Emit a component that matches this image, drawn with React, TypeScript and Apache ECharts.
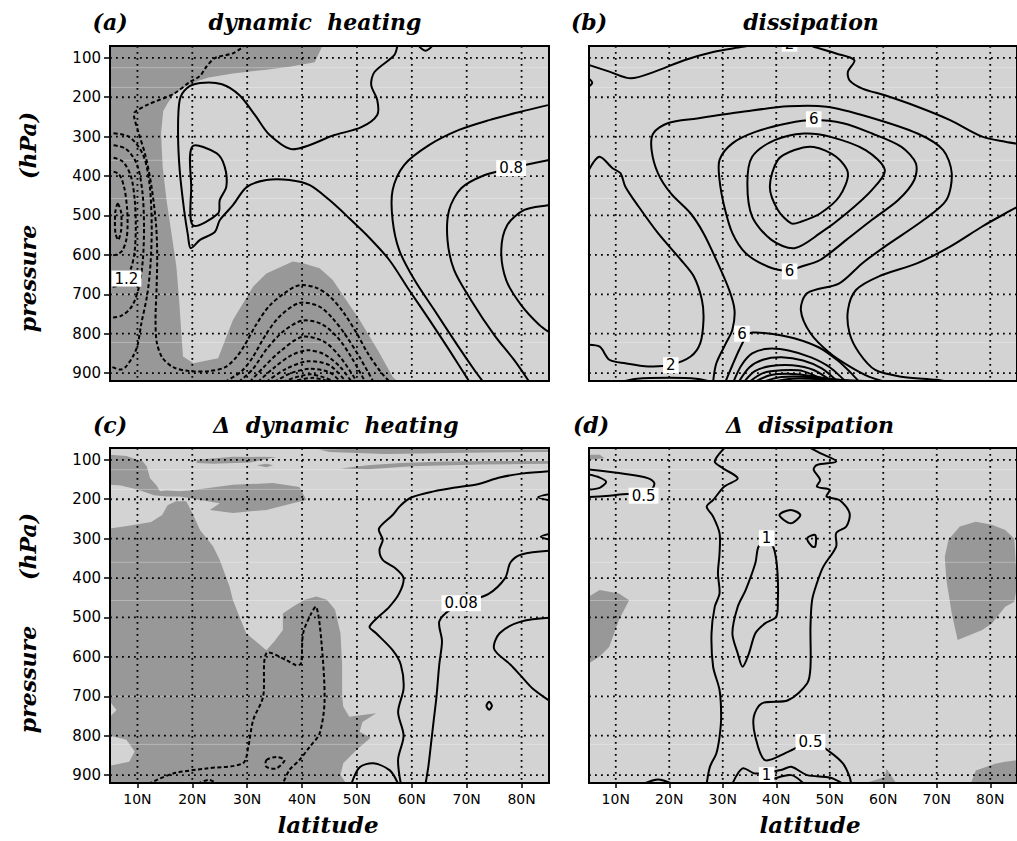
import React, { useEffect, useRef } from "react";
import * as echarts from "echarts";

type Pt = [number, number];

const LAT_TICKS = [10, 20, 30, 40, 50, 60, 70, 80];
const P_TICKS = [100, 200, 300, 400, 500, 600, 700, 800, 900];
const LAT_MIN = 5;
const LAT_MAX = 85;
const P_TOP = 70;
const P_BOTTOM = 920;
const FAINT_LEVELS = [125, 175, 360, 457, 700, 822];

// ---------------- panel (a) dynamic heating ----------------
const A_DARK: Pt[][] = [
  [[5, 70], [43.7, 70], [42.3, 111], [38, 122], [33.5, 130], [27.4, 140], [23, 150], [21.4, 157], [19.5, 168], [18, 180], [16.5, 195], [15.5, 215], [14.7, 235], [14.3, 292], [14.6, 377], [15.3, 461], [16.2, 545], [17.1, 630], [17.6, 715], [18, 799], [18.3, 858], [20.2, 875], [24.7, 862], [27.4, 765], [31.1, 680], [33.5, 647], [38.3, 617], [40.2, 621], [43.2, 634], [45.6, 664], [48, 714], [50.5, 765], [52.3, 807], [54.1, 849], [56.5, 909], [57.3, 920], [5, 920]],
];
const A_LIGHT: Pt[][] = [];
const A_SOLID: Pt[][] = [
  [[57.4, 66], [56.8, 93], [53.2, 136], [52.6, 169], [53.7, 207], [53.7, 245], [50.8, 276], [45.9, 296], [38.3, 332], [34.1, 296], [31.4, 245], [28.6, 195], [25.4, 167], [21.4, 164], [19, 177], [17.7, 207], [17.4, 291], [17.7, 385], [18.5, 486], [19.2, 550], [19.7, 583], [21.4, 562], [24.1, 542], [25, 512], [27.4, 474], [29.9, 428], [33.5, 410], [37.7, 410], [41.4, 423], [45, 461], [48.6, 507], [52.3, 557], [55.9, 613], [59.5, 689], [63.2, 765], [66.8, 841], [70.5, 922]],
  [[20, 325], [24.4, 342], [25.9, 376], [26.2, 427], [25, 461], [24.7, 495], [20.1, 525], [19.8, 427], [20, 325]],
  [[61, 66], [62.5, 82], [64, 66]],
  [[84.8, 220], [79.5, 238], [74.1, 258], [68.6, 283], [63.2, 321], [58.6, 372], [56.5, 436], [56.5, 512], [57.7, 588], [60.5, 664], [64.1, 740], [68.3, 829], [71.4, 892], [73, 922]],
  [[86, 358], [84.8, 360], [78.1, 380], [73.2, 398], [69, 431], [66.8, 486], [66.5, 562], [67.7, 638], [70.8, 715], [75, 803], [78.6, 866], [81.4, 922]],
  [[86, 472], [84.8, 474], [80.5, 486], [77.4, 524], [76.3, 588], [77.2, 664], [79.9, 727], [83.2, 777], [86, 805]],
];
const A_DASHED: Pt[][] = [
  [[6.4, 470], [7.0, 490], [7.1, 515], [7.0, 540], [6.5, 562], [6.0, 545], [5.9, 515], [6.0, 488], [6.4, 470]],
  [[4.5, 385], [6.6, 395], [7.6, 430], [8.1, 480], [8.2, 525], [8.0, 560], [7.2, 590], [6.0, 600], [4.5, 600]],
  [[4.5, 350], [7.2, 362], [8.8, 400], [9.5, 460], [9.7, 525], [9.5, 590], [8.8, 635], [7.5, 665], [6, 680], [4.5, 680]],
  [[4.5, 320], [7.8, 330], [9.9, 370], [10.9, 440], [11.2, 525], [11.0, 610], [10.3, 680], [9.0, 730], [7.0, 755], [4.5, 760]],
  [[4.5, 290], [8.4, 300], [11, 345], [12.2, 420], [12.6, 525], [12.4, 620], [11.8, 700], [10.7, 775], [10, 830], [9.2, 857], [7.8, 885], [6.8, 891], [4.5, 879]],
  [[29.8, 66], [27.5, 88], [24.2, 100], [22.6, 122], [21.4, 146], [19.5, 162], [16.5, 192], [12, 218], [9.5, 238], [9.4, 250], [10.2, 290], [11.5, 350], [12.6, 430], [13.4, 525], [13.6, 600], [13.5, 680], [13.3, 760], [13.5, 820], [14.5, 860], [16.5, 885], [19.5, 895], [23, 895], [26, 885], [28, 860], [29.5, 830], [31.5, 780], [34, 730], [37, 695], [39.5, 677], [42.5, 683], [45, 705], [47.5, 745], [50, 800], [52, 850], [54.5, 900], [56, 922]],
  [[26, 922], [29, 895], [31, 860], [33.5, 800], [36, 755], [39.5, 722], [43, 730], [45.5, 760], [48, 805], [50.5, 860], [53, 922]],
  [[28.5, 922], [31, 890], [33.5, 840], [36.5, 795], [40, 767], [43.5, 775], [46.5, 810], [49, 860], [51.5, 922]],
  [[30.5, 922], [33, 885], [36, 845], [40, 808], [44, 820], [47, 860], [50, 922]],
  [[32, 922], [35, 885], [38, 855], [41, 842], [44, 852], [47, 885], [49, 922]],
  [[33.5, 922], [37, 890], [41, 870], [45, 880], [48, 922]],
  [[35, 922], [38, 900], [41.5, 889], [45, 898], [47, 922]],
  [[36.5, 922], [41.5, 903], [46, 922]],
  [[38, 922], [42, 912], [45, 922]],
];
const A_LABELS = [
  { text: "1.2", lat: 8, p: 660 },
  { text: "0.8", lat: 78.1, p: 380 },
];

// ---------------- panel (b) dissipation ----------------
const B_DARK: Pt[][] = [];
const B_LIGHT: Pt[][] = [];
const B_SOLID: Pt[][] = [
  [[4.5, 116], [8.8, 135], [12.8, 152], [17.3, 135], [22.8, 106], [28.2, 85], [33.7, 72], [36.1, 66], [40, 62], [45, 63], [47, 72], [51.2, 89], [54.6, 106], [53.4, 135], [53.7, 157], [56.1, 178], [60.3, 195], [66.4, 224], [72.5, 258], [78.5, 300], [82.8, 313], [86, 320]],
  [[4.5, 148], [5.6, 163], [4.5, 178]],
  [[4.5, 397], [6.9, 351], [9.4, 380], [10.9, 393], [11.8, 427], [14.3, 478], [17.9, 545], [22.2, 613], [24.6, 655], [26.1, 714], [26.4, 765], [25.8, 824], [24, 858], [20.3, 879], [16.1, 883], [11.8, 875], [8.8, 866], [7, 833], [4.5, 828]],
  [[28.2, 922], [28.8, 875], [30.6, 824], [31.8, 790], [32.2, 740], [31.2, 689], [28.8, 613], [26.4, 545], [24, 495], [20.3, 444], [17.9, 393], [16.7, 334], [17, 292], [19.7, 266], [25.2, 254], [33.7, 237], [42.2, 223], [49.4, 224], [57.3, 250], [66.4, 292], [71.2, 334], [72.8, 393], [71.8, 461], [67.6, 511], [60.3, 579], [56.1, 621], [51.8, 672], [45.8, 697], [44.6, 740], [46.4, 799], [50, 849], [53.7, 883], [57.3, 909], [60.3, 922]],
  [[29.4, 359], [31.8, 317], [36.1, 288], [42.2, 266], [47, 258], [52.5, 266], [57.9, 292], [63.4, 326], [66.1, 368], [65.8, 410], [62.8, 461], [57.9, 511], [53.1, 562], [48.2, 613], [44.6, 630], [42.2, 640], [38.5, 630], [34.3, 596], [31.8, 545], [30.3, 478], [29.4, 410], [29.4, 359]],
  [[34.6, 419], [35.5, 351], [39.7, 309], [45.2, 292], [50, 300], [56.7, 334], [60.3, 385], [57.9, 435], [53.1, 495], [48.2, 545], [43.4, 583], [39.1, 562], [35.5, 503], [34.6, 419]],
  [[38.8, 427], [40.3, 359], [43.4, 334], [47, 326], [51.2, 351], [53.4, 393], [51.8, 452], [48.2, 495], [44.6, 516], [42.8, 520], [40.3, 486], [38.8, 427]],
  [[86, 472], [82.8, 495], [78.5, 528], [72.5, 579], [66.4, 621], [59.1, 655], [54.9, 689], [53.4, 740], [53.7, 799], [55.5, 849], [58.5, 892], [63.4, 909], [70, 917], [72, 922]],
  [[30.5, 922], [31.8, 880], [33.1, 840], [34.5, 805], [35.5, 797], [39, 800], [43.5, 812], [48, 835], [51.5, 868], [54, 900], [55.5, 922]],
  [[32, 922], [33.5, 880], [35.5, 850], [38.5, 838], [42.5, 843], [46.5, 860], [50, 885], [53, 922]],
  [[33, 922], [35, 885], [37.5, 866], [41, 860], [45, 868], [48.5, 888], [51.5, 922]],
  [[34, 922], [36, 895], [39, 882], [43, 880], [47, 892], [50.5, 922]],
  [[35, 922], [37.5, 900], [41, 893], [45, 895], [49.5, 922]],
  [[36, 922], [39, 905], [43, 902], [47, 908], [52, 922]],
  [[37.5, 922], [41, 910], [46, 910], [55, 922]],
  [[39, 922], [43, 914], [50, 916], [60, 922]],
  [[11, 922], [14, 914], [20, 912], [25, 914], [28, 922]],
];
const B_DASHED: Pt[][] = [];
const B_LABELS = [
  { text: "2", lat: 42.5, p: 64 },
  { text: "6", lat: 47, p: 256 },
  { text: "6", lat: 42.5, p: 642 },
  { text: "6", lat: 33.6, p: 800 },
  { text: "2", lat: 20.3, p: 880 },
];

// ---------------- panel (c) delta dynamic heating ----------------
const C_DARK: Pt[][] = [
  [[5, 274], [9, 266], [12.5, 258], [14.5, 240], [15.5, 215], [17, 205], [18.9, 205], [20, 235], [21.4, 278], [23.8, 320], [25, 354], [26.8, 422], [27.4, 456], [29.8, 540], [33.5, 583], [35, 560], [36.5, 532], [36.5, 490], [38.3, 473], [40.5, 455], [42.6, 447], [44.5, 455], [46, 480], [47, 540], [47.3, 620], [47.3, 700], [47.5, 726], [48.6, 752], [53.5, 743], [51, 765], [50.5, 790], [52.5, 805], [50, 835], [47.5, 870], [47, 900], [48, 920], [5, 920]],
  [[5, 87], [8, 90], [11, 104], [11.7, 117], [12.3, 147], [13.5, 165], [14.1, 180], [15.3, 178], [17.7, 180], [19.5, 178], [22.6, 172], [27.4, 163.5], [34.7, 159], [39.5, 169], [40.8, 202], [38.3, 210], [33.5, 227], [27.4, 235], [23.2, 227], [25, 210], [21.4, 202], [17.7, 193], [15.3, 193], [13, 190], [10, 175], [7, 165], [5, 163]],
  [[20.8, 100], [27.4, 92], [35.3, 93], [30.5, 107], [23.8, 110], [20.8, 108]],
  [[31.7, 114], [33.5, 110], [34.7, 114], [33.5, 119]],
  [[43, 74], [50, 72], [60, 72], [70, 73], [85, 74], [85, 80], [70, 82], [55, 85], [45, 80]],
  [[47, 122], [52, 114], [58, 108], [66, 104], [76, 103], [85, 103], [85, 110], [72, 112], [60, 116], [52, 124]],
];
const C_LIGHT: Pt[][] = [
  [[5, 714], [6.2, 735], [5, 752]],
  [[5, 800], [8, 810], [9.5, 840], [8.5, 866], [5, 876]],
];
const C_SOLID: Pt[][] = [
  [[86, 128], [80, 135], [76, 145], [72, 162], [68, 170], [64, 180], [60, 195], [58, 215], [56.5, 240], [54, 275], [54.7, 303], [54.1, 329], [54.7, 354], [57, 375], [58.5, 400], [57.7, 439], [55.9, 473], [52.3, 523], [53.5, 540], [56.5, 583], [58, 620], [58.5, 680], [57.5, 740], [58.5, 800], [57.5, 860], [58, 922]],
  [[86, 330], [80, 340], [78, 360], [77, 400], [74, 440], [70, 460], [67, 480], [65, 510], [65.5, 560], [65, 620], [64.5, 700], [64, 760], [63.5, 820], [63, 880], [62.5, 922]],
  [[86, 500], [80, 510], [76, 540], [75, 580], [78, 620], [80, 650], [82, 680], [86, 720]],
  [[86, 185], [83, 195], [86, 205]],
  [[86, 285], [83.5, 295], [86, 305]],
  [[73.6, 724], [74.1, 714], [74.6, 724], [74.1, 734], [73.6, 724]],
  [[49, 922], [50.5, 880], [53, 870], [56, 888], [57.5, 922]],
];
const C_DASHED: Pt[][] = [
  [[12, 922], [16.5, 896], [22.6, 883], [29.2, 870], [30.2, 828], [31.1, 760], [32.9, 701], [33.5, 591], [37.1, 608], [38.9, 621], [39.8, 617], [40.2, 540], [41.7, 489], [42.6, 473], [43.5, 557], [44.1, 710], [43.2, 794], [41.4, 828], [39.5, 862], [37.7, 887], [36.5, 922]],
  [[33.5, 862], [35.3, 854], [36.8, 862], [35.3, 883], [33.5, 879], [33.5, 862]],
  [[21, 922], [23, 912], [24.5, 922]],
];
const C_LABELS = [{ text: "0.08", lat: 69, p: 464 }];

// ---------------- panel (d) delta dissipation ----------------
const D_DARK: Pt[][] = [
  [[5, 87], [7, 87], [7.9, 96], [5, 100]],
  [[5, 447], [7, 430], [10.6, 439], [12.5, 456], [10.6, 506], [8.8, 574], [7, 599], [5, 616]],
  [[71.5, 346], [72.2, 303], [74.3, 269], [77.3, 257], [80.3, 265], [82.8, 278], [84.5, 300], [85, 420], [84.5, 460], [82.8, 473], [80.3, 515], [78.5, 532], [73.9, 557], [72.8, 489], [71.8, 405]],
  [[56.7, 920], [60.3, 905], [60.6, 884], [62.4, 920]],
  [[76.4, 920], [77.3, 888], [80.9, 871], [82.8, 866], [85, 862], [85, 920]],
];
const D_LIGHT: Pt[][] = [];
const D_SOLID: Pt[][] = [
  [[4.5, 124], [11.8, 136], [16.1, 147], [17.2, 159], [16.7, 176], [15.2, 191], [12.2, 187], [8.8, 191], [4.5, 195]],
  [[4.5, 136], [7, 145], [8.2, 156], [7, 171], [4.5, 176]],
  [[30.6, 66], [28.5, 104], [30, 121], [32.8, 147], [30.3, 168], [28.2, 202], [27, 219], [28.2, 244], [29.4, 286], [29.4, 337], [29.1, 388], [29.4, 439], [28.5, 473], [27.9, 540], [28.2, 625], [29.4, 684], [29.7, 752], [29.4, 803], [28.8, 845], [27.6, 879], [27, 922]],
  [[45.8, 66], [48.2, 83], [51.2, 104], [47.6, 113], [47, 125], [48.2, 151], [47.6, 168], [50, 176], [49.4, 193], [51.8, 202], [53.7, 235], [53.1, 269], [51.2, 286], [51.2, 320], [48.8, 371], [47.6, 413], [46.7, 456], [46.4, 523], [46.4, 625], [45.8, 667], [42.2, 710], [37.3, 718], [35.8, 752], [36.1, 803], [37.9, 862], [42.2, 841], [46.7, 815], [50, 841], [52.5, 871], [53.7, 904], [54, 922]],
  [[38.2, 307], [36.7, 320], [36.1, 362], [34.3, 430], [32.8, 473], [31.8, 540], [32.8, 591], [33.7, 625], [34.9, 591], [36.1, 540], [37.9, 515], [40, 498], [40.3, 456], [40.3, 405], [40, 354], [39.4, 320], [38.2, 307]],
  [[40.6, 240], [42.7, 227], [44.5, 240], [42.7, 261], [40.6, 240]],
  [[45.8, 299], [47.3, 291], [47.3, 320], [46.7, 320], [45.8, 299]],
  [[31.8, 922], [33.7, 883], [36.1, 896], [40.9, 887], [42.8, 879], [45.8, 900], [50, 906], [52.5, 922]],
  [[36.1, 922], [39.1, 911], [42.8, 900], [45.2, 922]],
  [[15.2, 922], [17.9, 911], [20.6, 922]],
];
const D_DASHED: Pt[][] = [];
const D_LABELS = [
  { text: "0.5", lat: 15.2, p: 191 },
  { text: "1", lat: 38.2, p: 299 },
  { text: "0.5", lat: 46.4, p: 816 },
  { text: "1", lat: 38.2, p: 900 },
];

const DARK = "#989898";
const LIGHT = "#d3d3d3";

type Panel = {
  left: number; top: number; width: number; height: number;
  showX: boolean; showY: boolean;
  dark: Pt[][]; light: Pt[][]; solid: Pt[][]; dashed: Pt[][];
  labels: { text: string; lat: number; p: number }[];
};

const PANELS: Panel[] = [
  { left: 110, top: 46, width: 439, height: 335, showX: false, showY: true, dark: A_DARK, light: A_LIGHT, solid: A_SOLID, dashed: A_DASHED, labels: A_LABELS },
  { left: 589, top: 46, width: 440, height: 335, showX: false, showY: false, dark: B_DARK, light: B_LIGHT, solid: B_SOLID, dashed: B_DASHED, labels: B_LABELS },
  { left: 110, top: 448, width: 439, height: 335, showX: true, showY: true, dark: C_DARK, light: C_LIGHT, solid: C_SOLID, dashed: C_DASHED, labels: C_LABELS },
  { left: 589, top: 448, width: 440, height: 335, showX: true, showY: false, dark: D_DARK, light: D_LIGHT, solid: D_SOLID, dashed: D_DASHED, labels: D_LABELS },
];

function isClosed(c: Pt[]) {
  const a = c[0], b = c[c.length - 1];
  return a[0] === b[0] && a[1] === b[1];
}

function panelSeries(i: number, pn: Panel): any[] {
  const shades = [
    ...pn.dark.map((pts) => ({ pts, fill: DARK })),
    ...pn.light.map((pts) => ({ pts, fill: LIGHT })),
  ];
  const contours = [
    ...pn.solid.map((pts) => ({ pts, dash: false })),
    ...pn.dashed.map((pts) => ({ pts, dash: true })),
  ];
  const base = { type: "custom", xAxisIndex: i, yAxisIndex: i, silent: true };
  return [
    {
      ...base, z: 1, clip: true,
      data: shades.map((s) => s.pts[0]),
      renderItem: (params: any, api: any) => {
        const s = shades[params.dataIndex];
        return { type: "polygon", shape: { points: s.pts.map((p) => api.coord(p)) }, style: { fill: s.fill } };
      },
    },
    {
      ...base, z: 2, clip: true,
      data: FAINT_LEVELS.map((p) => [LAT_MIN, p]),
      renderItem: (params: any, api: any) => {
        const p = FAINT_LEVELS[params.dataIndex];
        const a = api.coord([LAT_MIN, p]);
        const b = api.coord([LAT_MAX, p]);
        return { type: "line", shape: { x1: a[0], y1: a[1], x2: b[0], y2: b[1] }, style: { stroke: "rgba(255,255,255,0.3)", lineWidth: 1 } };
      },
    },
    {
      ...base, z: 3, clip: true,
      data: LAT_TICKS.map((v) => [v, P_TOP]),
      renderItem: (params: any, api: any) => {
        const v = LAT_TICKS[params.dataIndex];
        const a = api.coord([v, P_TOP]);
        const b = api.coord([v, P_BOTTOM]);
        return { type: "line", shape: { x1: a[0], y1: a[1], x2: b[0], y2: b[1] }, style: { stroke: "#000", lineWidth: 1.8, lineDash: [1.8, 4.2] } };
      },
    },
    {
      ...base, z: 3, clip: true,
      data: P_TICKS.map((p) => [LAT_MIN, p]),
      renderItem: (params: any, api: any) => {
        const p = P_TICKS[params.dataIndex];
        const a = api.coord([LAT_MIN, p]);
        const b = api.coord([LAT_MAX, p]);
        return { type: "line", shape: { x1: a[0], y1: a[1], x2: b[0], y2: b[1] }, style: { stroke: "#000", lineWidth: 1.8, lineDash: [1.8, 4.2] } };
      },
    },
    {
      ...base, z: 4, clip: true,
      data: contours.map((c) => c.pts[0]),
      renderItem: (params: any, api: any) => {
        const c = contours[params.dataIndex];
        const pts = c.pts.map((p) => api.coord(p));
        const closed = isClosed(c.pts);
        return {
          type: closed ? "polygon" : "polyline",
          shape: { points: closed ? pts.slice(0, -1) : pts, smooth: 0.3 },
          style: { stroke: "#000", fill: null, lineWidth: 2, lineDash: c.dash ? [4, 2.5] : null },
        };
      },
    },
    {
      ...base, z: 5, clip: true,
      data: pn.labels.map((l) => [l.lat, l.p]),
      renderItem: (params: any, api: any) => {
        const l = pn.labels[params.dataIndex];
        const c = api.coord([l.lat, l.p]);
        return {
          type: "text", x: c[0], y: c[1],
          style: { text: l.text, fill: "#000", font: "15px 'DejaVu Sans'", align: "center", verticalAlign: "middle", textAlign: "center", textVerticalAlign: "middle", backgroundColor: "#fff", padding: [1, 3, 0, 3] },
        };
      },
    },
    {
      ...base, z: 6, clip: false,
      data: [[LAT_MIN, P_TOP]],
      renderItem: (params: any, api: any) => {
        const a = api.coord([LAT_MIN, P_TOP]);
        const b = api.coord([LAT_MAX, P_BOTTOM]);
        return { type: "rect", shape: { x: a[0], y: a[1], width: b[0] - a[0], height: b[1] - a[1] }, style: { stroke: "#000", fill: null, lineWidth: 2 } };
      },
    },
  ];
}

function txt(text: string, x: number, y: number, rotation = 0, size = 22) {
  return {
    type: "text", x, y, rotation,
    style: { text, font: `italic bold ${size}px 'DejaVu Serif'`, fill: "#000", textAlign: "center", textVerticalAlign: "middle", align: "center", verticalAlign: "middle" },
  };
}

export default function App() {
  const ref = useRef<HTMLDivElement>(null);
  useEffect(() => {
    if (!ref.current) return;
    const chart = echarts.init(ref.current, null, { renderer: "svg" });
    const option: any = {
      animation: false,
      grid: PANELS.map((p) => ({ left: p.left, top: p.top, width: p.width, height: p.height, show: true, backgroundColor: LIGHT, borderWidth: 0 })),
      xAxis: PANELS.map((p, i) => ({
        type: "value", gridIndex: i, min: LAT_MIN, max: LAT_MAX,
        axisLine: { show: false }, splitLine: { show: false },
        axisTick: { show: p.showX, customValues: LAT_TICKS, length: 5, lineStyle: { color: "#000", width: 1.5 } },
        axisLabel: { show: p.showX, customValues: LAT_TICKS, formatter: (v: number) => `${v}N`, color: "#000", fontSize: 14, fontFamily: "DejaVu Sans", margin: 9 },
      })),
      yAxis: PANELS.map((p, i) => ({
        type: "value", gridIndex: i, min: P_TOP, max: P_BOTTOM, inverse: true,
        axisLine: { show: false }, splitLine: { show: false },
        axisTick: { show: p.showY, customValues: P_TICKS, length: 6, lineStyle: { color: "#000", width: 1.5 } },
        axisLabel: { show: p.showY, customValues: P_TICKS, color: "#000", fontSize: 15, fontFamily: "DejaVu Sans", margin: 9 },
      })),
      series: PANELS.flatMap((p, i) => panelSeries(i, p)),
      graphic: [
        txt("(a)", 110, 22), txt("dynamic  heating", 315, 22),
        txt("(b)", 589, 22), txt("dissipation", 811, 22),
        txt("(c)", 110, 425), txt("Δ  dynamic  heating", 336, 425),
        txt("(d)", 591, 425), txt("Δ  dissipation", 810, 425),
        txt("pressure      (hPa)", 28, 222, Math.PI / 2),
        txt("pressure      (hPa)", 28, 623, Math.PI / 2),
        txt("latitude", 328, 824, 0, 23), txt("latitude", 810, 824, 0, 23),
      ],
    };
    chart.setOption(option);
    return () => chart.dispose();
  }, []);
  return (
    <div style={{ position: "absolute", left: 0, top: 0, width: 1017, height: 841, overflow: "hidden", background: "#fff" }}>
      <div ref={ref} style={{ width: 1017, height: 841 }} />
    </div>
  );
}
